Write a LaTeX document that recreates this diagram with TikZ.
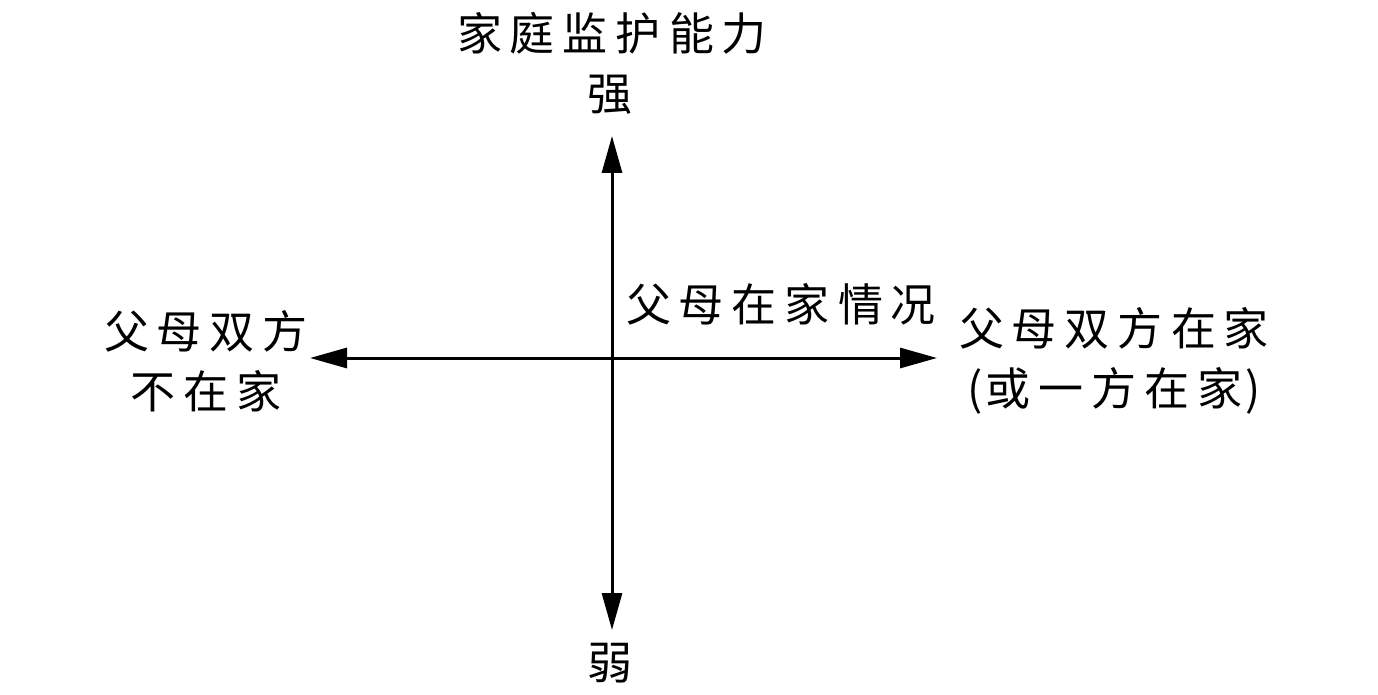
\documentclass[tikz,border=0pt]{standalone}
\usepackage{fontspec}
\newfontfamily\cjk{Noto Sans CJK SC}
\usetikzlibrary{arrows.meta}
\newcommand\ls{\kern8pt}
\begin{document}
\begin{tikzpicture}[x=1pt,y=-1pt,
  lbl/.style={inner sep=0pt,align=center,font=\cjk\fontsize{45}{60}\selectfont},
  axis/.style={line width=3pt,-{Triangle[length=37pt,width=20pt]}}]
\useasboundingbox (0,0) rectangle (1378,695);
\coordinate (O) at (612,358);
\coordinate (T) at (612,136);
\coordinate (B) at (612,630);
\coordinate (L) at (310,358);
\coordinate (R) at (937,358);
\draw[axis] (O) -- (T);
\draw[axis] (O) -- (B);
\draw[axis] (O) -- (L);
\draw[axis] (O) -- (R);
\node[lbl] (top) at (612,33) {家\ls 庭\ls 监\ls 护\ls 能\ls 力};
\node[lbl] (strong) at (610,95) {强};
\node[lbl] (weak) at (610,663) {弱};
\node[lbl] (xlab) at (781,304) {父\ls 母\ls 在\ls 家\ls 情\ls 况};
\node[lbl] (right) at (1114,361) {父\ls 母\ls 双\ls 方\ls 在\ls 家\\(\kern3pt 或\ls 一\ls 方\ls 在\ls 家\kern3pt)};
\node[lbl] (left) at (206,361) {父\ls 母\ls 双\ls 方\\不\ls 在\ls 家};
\end{tikzpicture}
\end{document}
